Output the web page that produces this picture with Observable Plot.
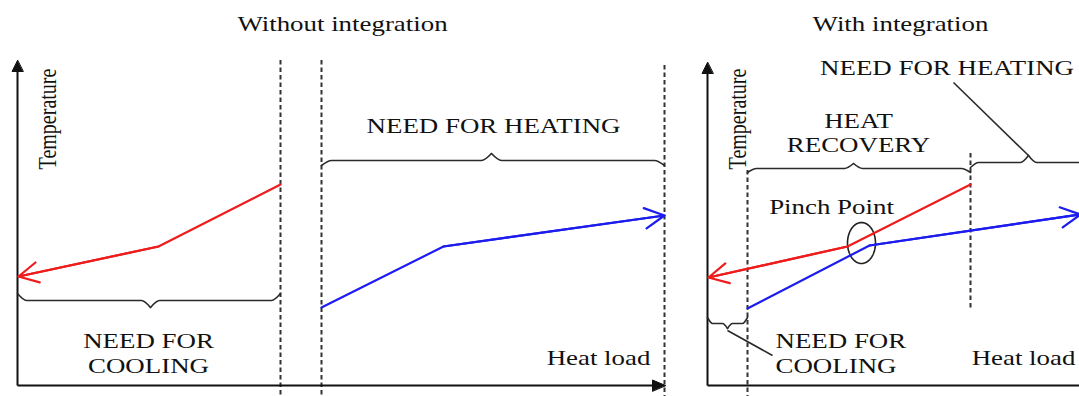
<!DOCTYPE html>
<html>
<head>
<meta charset="utf-8">
<script src="https://cdn.jsdelivr.net/npm/d3@7"></script>
<script src="https://cdn.jsdelivr.net/npm/@observablehq/plot@0.6"></script>
<style>
  html, body { margin: 0; padding: 0; background: #fff; }
  svg { display: block; }
</style>
</head>
<body>
<div id="chart"></div>
<script>
// ---------------- DATA (x = heat load units, y = temperature units) ----------------
const panelTitles = ["Without integration", "With integration"];

// Without integration
const hotLoadSeparate  = [263, 141, 1];
const hotTempSeparate  = [201, 139, 109];
const coldLoadSeparate = [304, 426, 647];
const coldTempSeparate = [78, 139, 170];

// With integration
const hotLoadIntegrated  = [953, 830, 691];
const hotTempIntegrated  = [201, 139, 108];
const coldLoadIntegrated = [730, 852, 1063];
const coldTempIntegrated = [77, 140, 171];

const axisTitleY = "Temperature";
const axisTitleX = "Heat load";

// ---------------- LAYOUT (annotation geometry, in the same units) ----------------
const STRETCH = 1.28;   // horizontal stretch of the original lettering
const FONT = "'Liberation Serif', 'Times New Roman', serif";
const INK = "#111";

const axesY = [{x: 0, y1: 0, y2: 318, tip: 325}, {x: 690, y1: 0, y2: 316, tip: 323}];
const axesX = [{y: 0, x1: 0, x2: 637, tip: 648}, {y: 0, x1: 690, x2: 1090, tip: 1100}];

const dashed = [
  {x: 263, y1: 325, y2: -11},
  {x: 304, y1: 325, y2: -11},
  {x: 647, y1: 320, y2: -11},
  {x: 730, y1: 215, y2: -11},
  {x: 953, y1: 232, y2: 77}
];

const braces = [
  {x1: 0,   x2: 263,  end: 92,  body: 85,  tip: 78,  at: 133,  r: 9},
  {x1: 304, x2: 647,  end: 220, body: 225, tip: 232, at: 474,  r: 10},
  {x1: 730, x2: 953,  end: 213, body: 217, tip: 222, at: 836,  r: 9},
  {x1: 953, x2: 1069, end: 218, body: 223, tip: 230, at: 1011, r: 8},
  {x1: 690, x2: 730,  end: 68,  body: 62,  tip: 57,  at: 710,  r: 5}
];

const leaders = [
  {x1: 936, y1: 303, x2: 1011, y2: 230},
  {x1: 710, y1: 55,  x2: 755,  y2: 30}
];

const pinch = {x: 844, y: 142.5, rx: 14, ry: 20.5, label: "Pinch Point"};

const labelsCentered = [
  {x: 325,   y: 361,   text: panelTitles[0]},
  {x: 883,   y: 361,   text: panelTitles[1]},
  {x: 476,   y: 259,   text: "NEED FOR HEATING"},
  {x: 131,   y: 44,    text: "NEED FOR"},
  {x: 131,   y: 19,    text: "COOLING"},
  {x: 581,   y: 27,    text: axisTitleX},
  {x: 929.5, y: 317,   text: "NEED FOR HEATING"},
  {x: 841,   y: 264,   text: "HEAT"},
  {x: 841,   y: 240,   text: "RECOVERY"},
  {x: pinch.x - 30, y: 178.5, text: pinch.label},
  {x: 1006,  y: 27,    text: axisTitleX}
];
const labelsStart = [
  {x: 758, y: 44, text: "NEED FOR"},
  {x: 758, y: 19, text: "COOLING"}
];
const labelsRotated = [
  {x: 30,  y: 266.5, text: axisTitleY},
  {x: 720, y: 266.5, text: axisTitleY}
];

// ---------------- BUILD ROWS ----------------
function curveRows(id, loads, temps) {
  return loads.map((l, i) => ({id, x: l, y: temps[i]}));
}
const hotRows = [
  ...curveRows("hot-sep", hotLoadSeparate, hotTempSeparate),
  ...curveRows("hot-int", hotLoadIntegrated, hotTempIntegrated)
];
const coldRows = [
  ...curveRows("cold-sep", coldLoadSeparate, coldTempSeparate),
  ...curveRows("cold-int", coldLoadIntegrated, coldTempIntegrated)
];
function lastSegment(loads, temps) {
  const n = loads.length;
  return {x1: loads[n - 2], y1: temps[n - 2], x2: loads[n - 1], y2: temps[n - 1]};
}
const hotHeads = [lastSegment(hotLoadSeparate, hotTempSeparate), lastSegment(hotLoadIntegrated, hotTempIntegrated)];
const coldHeads = [lastSegment(coldLoadSeparate, coldTempSeparate), lastSegment(coldLoadIntegrated, coldTempIntegrated)];

const braceRows = [];
braces.forEach((b, i) => {
  [[b.x1, b.end], [b.x1 + b.r, b.body], [b.at - b.r, b.body], [b.at, b.tip]]
    .forEach(([x, y]) => braceRows.push({id: i + "L", x, y}));
  [[b.at, b.tip], [b.at + b.r, b.body], [b.x2 - b.r, b.body], [b.x2, b.end]]
    .forEach(([x, y]) => braceRows.push({id: i + "R", x, y}));
});

const ellipseRows = d3.range(0, 361, 6).map(a => ({
  x: pinch.x + pinch.rx * Math.cos(a * Math.PI / 180),
  y: pinch.y + pinch.ry * Math.sin(a * Math.PI / 180)
}));

const headRows = [];
axesY.forEach((a, i) => {
  [[a.x, a.tip], [a.x - 5.5, a.tip - 11], [a.x + 5.5, a.tip - 11]].forEach(([x, y]) => headRows.push({id: "y" + i, x, y}));
});
axesX.forEach((a, i) => {
  [[a.tip, a.y], [a.tip - 13, a.y + 5.5], [a.tip - 13, a.y - 5.5]].forEach(([x, y]) => headRows.push({id: "x" + i, x, y}));
});

// ---------------- PLOT ----------------
const chart = Plot.plot({
  width: 1079,
  height: 396,
  margin: 0,
  x: {domain: [-17, 1062], axis: null},
  y: {domain: [-11, 385], axis: null},
  style: {background: "#fff", overflow: "hidden", fontFamily: FONT},
  marks: [
    Plot.ruleX(dashed, {x: "x", y1: "y1", y2: "y2", stroke: "#333", strokeWidth: 2, strokeDasharray: "4.5,3"}),
    Plot.link(axesY, {x1: "x", x2: "x", y1: "y1", y2: "y2", stroke: "#111", strokeWidth: 2}),
    Plot.link(axesX, {x1: "x1", x2: "x2", y1: "y", y2: "y", stroke: "#111", strokeWidth: 2}),
    Plot.line(headRows, {x: "x", y: "y", z: "id", fill: "#111", stroke: "#111", strokeWidth: 1, curve: "linear-closed"}),
    Plot.line(braceRows, {x: "x", y: "y", z: "id", curve: "monotone-x", stroke: "#2a2a2a", strokeWidth: 1.6}),
    Plot.link(leaders, {x1: "x1", y1: "y1", x2: "x2", y2: "y2", stroke: "#2a2a2a", strokeWidth: 1.6}),
    Plot.line(ellipseRows, {x: "x", y: "y", stroke: "#222", strokeWidth: 1.6}),
    Plot.line(hotRows, {x: "x", y: "y", z: "id", stroke: "#ee1c1c", strokeWidth: 2.2}),
    Plot.arrow(hotHeads, {x1: "x1", y1: "y1", x2: "x2", y2: "y2", stroke: "#ee1c1c", strokeWidth: 2.2, headLength: 15, headAngle: 55}),
    Plot.line(coldRows, {x: "x", y: "y", z: "id", stroke: "#1c1cee", strokeWidth: 2.2}),
    Plot.arrow(coldHeads, {x1: "x1", y1: "y1", x2: "x2", y2: "y2", stroke: "#1c1cee", strokeWidth: 2.2, headLength: 15, headAngle: 55}),
    Plot.text(labelsCentered, {x: "x", y: "y", text: "text", textAnchor: "middle", fontSize: 21, fontFamily: FONT, fill: INK}),
    Plot.text(labelsStart, {x: "x", y: "y", text: "text", textAnchor: "start", fontSize: 21, fontFamily: FONT, fill: INK}),
    Plot.text(labelsRotated, {x: "x", y: "y", text: "text", rotate: -90, textAnchor: "middle", fontSize: 20, fontFamily: FONT, fill: INK})
  ]
});

document.getElementById("chart").append(chart);

// Reproduce the horizontally stretched lettering of the original figure
chart.querySelectorAll("text").forEach(t => {
  const own = t.getAttribute("transform") || "";
  const parent = t.parentNode.getAttribute("transform") || "";
  if (own.includes("rotate")) {
    // rotated labels: stretch along the page's horizontal axis (glyph height)
    t.setAttribute("transform", own.replace("rotate(", `scale(${STRETCH},1) rotate(`));
    return;
  }
  if (parent.includes("rotate")) return;
  const len = t.getComputedTextLength();
  if (!(len > 0)) return;
  t.setAttribute("textLength", (len * STRETCH).toFixed(1));
  t.setAttribute("lengthAdjust", "spacingAndGlyphs");
});
</script>
</body>
</html>
